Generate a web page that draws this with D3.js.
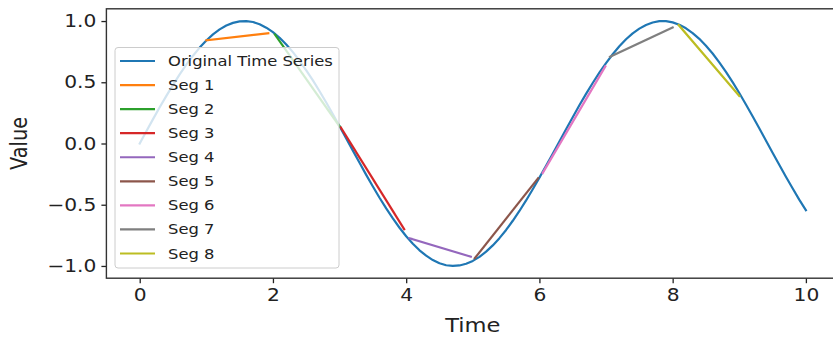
<!DOCTYPE html>
<html><head><meta charset="utf-8">
<script src="https://cdn.jsdelivr.net/npm/d3@7"></script>
<style>
html,body{margin:0;padding:0;background:#fff;}
svg{display:block;font-family:"DejaVu Sans",sans-serif;}
</style></head>
<body>
<svg id="c" width="833" height="337"></svg>
<script>
// ---- data ----
const timeValues = [0.0,0.1,0.2,0.3,0.4,0.5,0.6,0.7,0.8,0.9,1.0,1.1,1.2,1.3,1.4,1.5,1.6,1.7,1.8,1.9,2.0,2.1,2.2,2.3,2.4,2.5,2.6,2.7,2.8,2.9,3.0,3.1,3.2,3.3,3.4,3.5,3.6,3.7,3.8,3.9,4.0,4.1,4.2,4.3,4.4,4.5,4.6,4.7,4.8,4.9,5.0,5.1,5.2,5.3,5.4,5.5,5.6,5.7,5.8,5.9,6.0,6.1,6.2,6.3,6.4,6.5,6.6,6.7,6.8,6.9,7.0,7.1,7.2,7.3,7.4,7.5,7.6,7.7,7.8,7.9,8.0,8.1,8.2,8.3,8.4,8.5,8.6,8.7,8.8,8.9,9.0,9.1,9.2,9.3,9.4,9.5,9.6,9.7,9.8,9.9,10.0];
const seriesValues = [0.000,0.100,0.199,0.296,0.389,0.479,0.565,0.644,0.717,0.783,0.841,0.891,0.932,0.964,0.985,0.997,1.000,0.992,0.974,0.946,0.909,0.863,0.808,0.746,0.675,0.598,0.516,0.427,0.335,0.239,0.141,0.042,-0.058,-0.158,-0.256,-0.351,-0.443,-0.530,-0.612,-0.688,-0.757,-0.818,-0.872,-0.916,-0.952,-0.978,-0.994,-1.000,-0.996,-0.982,-0.959,-0.926,-0.883,-0.832,-0.773,-0.706,-0.631,-0.551,-0.465,-0.374,-0.279,-0.182,-0.083,0.017,0.117,0.215,0.312,0.405,0.494,0.578,0.657,0.729,0.794,0.851,0.899,0.938,0.968,0.988,0.999,0.999,0.989,0.970,0.941,0.902,0.855,0.798,0.735,0.663,0.585,0.501,0.412,0.319,0.223,0.124,0.025,-0.075,-0.174,-0.272,-0.366,-0.458,-0.544];
const segNames = ["Seg 1","Seg 2","Seg 3","Seg 4","Seg 5","Seg 6","Seg 7","Seg 8"];
const segStartT = [1.00, 2.03, 3.02, 4.05, 5.03, 6.05, 7.06, 8.09];
const segStartV = [0.842, 0.890, 0.130, -0.774, -0.937, -0.240, 0.709, 0.967];
const segEndT   = [1.93, 3.00, 3.97, 4.97, 5.98, 6.99, 8.00, 9.00];
const segEndV   = [0.900, 0.140, -0.700, -0.924, -0.284, 0.630, 0.948, 0.388];
const xTicks = [0, 2, 4, 6, 8, 10];
const yTicks = [-1.0, -0.5, 0.0, 0.5, 1.0];
const seriesName = "Original Time Series";
const colors = ["#1f77b4","#ff7f0e","#2ca02c","#d62728","#9467bd","#8c564b","#e377c2","#7f7f7f","#bcbd22"];

// ---- layout ----
const L = 106.4, R = 839.2, T = 8.8, B = 278.2;
const SX = 1.17; // horizontal text stretch of the reference
const svg = d3.select("#c");
const x = d3.scaleLinear().domain([-0.5, 10.5]).range([L, R]);
const y = d3.scaleLinear().domain([-1.1, 1.1]).range([B, T]);

svg.append("clipPath").attr("id","pc").append("rect")
  .attr("x",L).attr("y",T).attr("width",R-L).attr("height",B-T);

const plot = svg.append("g").attr("clip-path","url(#pc)");
const line = d3.line().x(d=>x(d[0])).y(d=>y(d[1]));
plot.append("path").datum(timeValues.map((t,i)=>[t, seriesValues[i]]))
  .attr("d", line).attr("fill","none").attr("stroke",colors[0])
  .attr("stroke-width",2.2).attr("stroke-linejoin","round").attr("stroke-linecap","square");
segNames.forEach((n,i)=>{
  plot.append("path").datum([[segStartT[i],segStartV[i]],[segEndT[i],segEndV[i]]])
    .attr("d", line).attr("fill","none").attr("stroke",colors[i+1])
    .attr("stroke-width",2.2).attr("stroke-linecap","square");
});

// axes
const fontTick = 17.3, fontLab = 19.3;
const xAxis = svg.append("g").attr("transform",`translate(0,${B})`)
  .call(d3.axisBottom(x).tickValues(xTicks).tickFormat(d3.format("d")).tickSize(5).tickPadding(6));
const yAxis = svg.append("g").attr("transform",`translate(${L},0)`)
  .call(d3.axisLeft(y).tickValues(yTicks).tickFormat(d=>d3.format(".1f")(d).replace("-","\u2212")).tickSize(5).tickPadding(5));
[xAxis,yAxis].forEach(a=>{
  a.select(".domain").remove();
  a.selectAll(".tick line").attr("stroke","#222").attr("stroke-width",1.3);
  a.selectAll(".tick text").attr("fill","#222").attr("font-size",fontTick)
    .attr("font-family","DejaVu Sans");
});
xAxis.selectAll(".tick text").attr("dy","0.71em").attr("transform",`scale(${SX},1)`);
yAxis.selectAll(".tick text").each(function(){
  const t=d3.select(this); const xx=+t.attr("x");
  t.attr("x", xx/SX).attr("transform",`scale(${SX},1)`);
});

// spines
svg.append("rect").attr("x",L).attr("y",T).attr("width",R-L).attr("height",B-T)
  .attr("fill","none").attr("stroke","#333").attr("stroke-width",1.4);

// axis labels
svg.append("text").attr("transform",`translate(${(L+R)/2},332) scale(${SX},1)`)
  .attr("text-anchor","middle").attr("font-size",fontLab).attr("fill","#222").text("Time");
svg.append("text").attr("transform",`translate(27,${(T+B)/2}) rotate(-90) scale(1,${SX})`)
  .attr("text-anchor","middle").attr("font-size",fontLab).attr("fill","#222").text("Value");

// legend
const lg = svg.append("g");
const lgX = 115, lgY = 47.5, lgW = 224, lgH = 220.5;
lg.append("rect").attr("x",lgX).attr("y",lgY).attr("width",lgW).attr("height",lgH)
  .attr("rx",3).attr("fill","#fff").attr("fill-opacity",0.8)
  .attr("stroke","#cccccc").attr("stroke-width",1);
const names = [seriesName].concat(segNames);
const rowY = d3.scaleLinear().domain([0, names.length-1]).range([61, 253.5]);
names.forEach((n,i)=>{
  lg.append("line").attr("x1",120).attr("x2",155).attr("y1",rowY(i)).attr("y2",rowY(i))
    .attr("stroke",colors[i]).attr("stroke-width",2.2);
  lg.append("text").attr("transform",`translate(168,${rowY(i)}) scale(${SX},1)`)
    .attr("dy","0.36em").attr("font-size",14).attr("fill","#222").text(n);
});
</script>
</body></html>
